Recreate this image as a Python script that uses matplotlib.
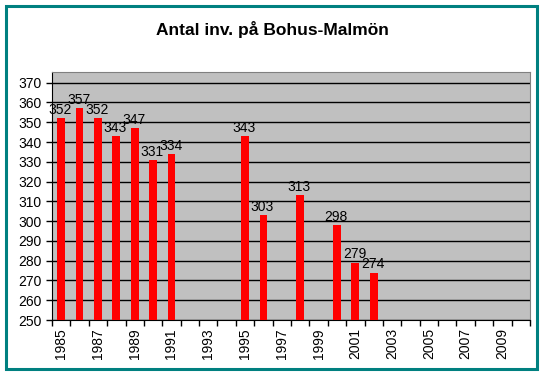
import numpy as np
import matplotlib.pyplot as plt
from matplotlib.patches import Rectangle

plt.rcParams['font.family'] = ['Liberation Sans', 'DejaVu Sans']

years = list(range(1985, 2011))
pop_years = [1985, 1986, 1987, 1988, 1989, 1990, 1991, 1995, 1996, 1998, 2000, 2001, 2002]
pop_values = [352, 357, 352, 343, 347, 331, 334, 343, 303, 313, 298, 279, 274]
tick_years = list(range(1985, 2011, 2))

fig = plt.figure(figsize=(5.44, 3.77), dpi=100)
ax = fig.add_axes([52 / 544, 1 - 320 / 377, 478 / 544, 248 / 377])

x = np.array([years.index(y) for y in pop_years])
ax.bar(x, pop_values, width=0.42, color='#ff0000', zorder=3)
for xi, v in zip(x, pop_values):
    ax.text(xi - 0.05, v + 0.6, str(v), ha='center', va='bottom', fontsize=10, zorder=4)

ax.set_facecolor('#c0c0c0')
ax.set_xlim(-0.5, len(years) - 0.5)
ax.set_ylim(250, 375.4)
ax.set_yticks(range(250, 371, 10))
ax.yaxis.grid(True, color='black', linewidth=1, zorder=1)
ax.set_axisbelow(True)

ax.set_xticks(np.arange(-0.5, len(years), 1))
ax.set_xticklabels([])
ax.set_xticks([years.index(y) for y in tick_years], minor=True)
ax.set_xticklabels([str(y) for y in tick_years], minor=True, rotation=90, fontsize=10)
ax.tick_params(axis='x', which='major', length=4, width=1, direction='out')
ax.tick_params(axis='x', which='minor', length=0, pad=6)
ax.tick_params(axis='y', length=4, width=1, labelsize=10)

for s in ['top', 'right']:
    ax.spines[s].set_color('#808080')
for s in ['left', 'bottom']:
    ax.spines[s].set_color('black')

fig.text(0.5, 1 - 30 / 377, 'Antal inv. på Bohus-Malmön', ha='center', va='center',
         fontsize=12.5, fontweight='bold')
fig.patches.append(Rectangle((6 / 544, 1 - 369 / 377), 531 / 544, 363 / 377,
                             transform=fig.transFigure, fill=False,
                             edgecolor='#008080', linewidth=2.2))

plt.savefig('out.png', dpi=100)
